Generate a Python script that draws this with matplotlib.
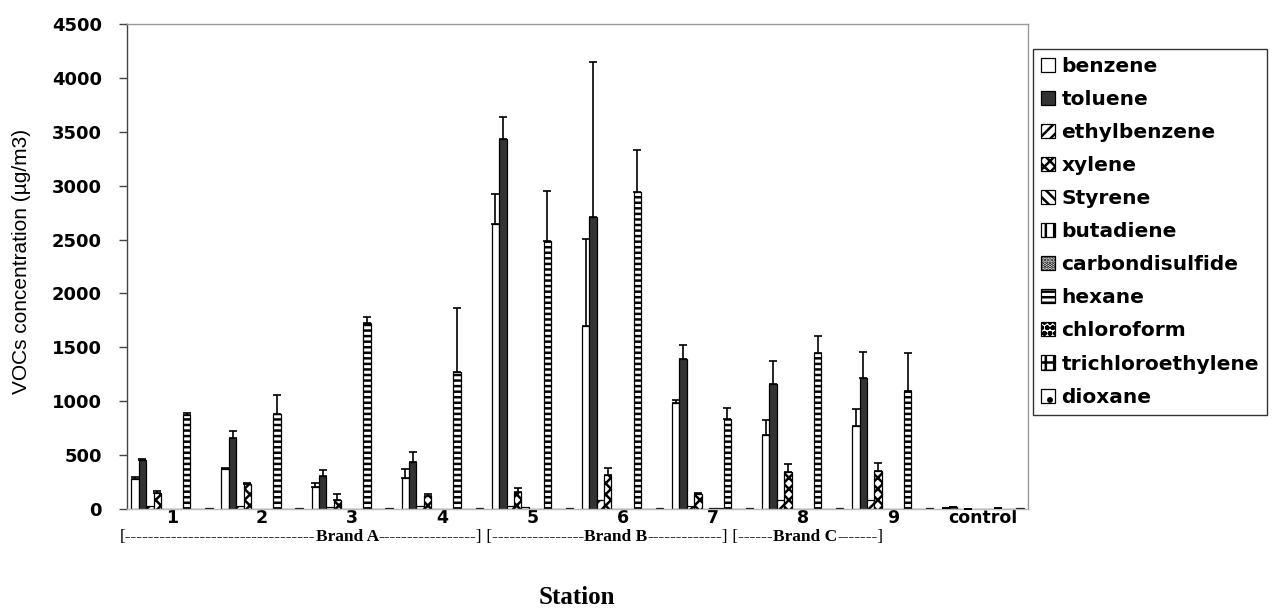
import matplotlib
matplotlib.use("Agg")
import matplotlib.pyplot as plt
import numpy as np

# station labels and the brand bracket line under them
stations = ['1', '2', '3', '4', '5', '6', '7', '8', '9', 'control']
brand_pieces = [("[" + "-" * 33, 'normal'), ("Brand A", 'bold'), ("-" * 17 + "]", 'normal'),
                (" [" + "-" * 16, 'normal'), ("Brand B", 'bold'), ("-" * 13 + "]", 'normal'),
                (" [" + "-" * 6, 'normal'), ("Brand C", 'bold'), ("-" * 7 + "]", 'normal')]

compounds = ['benzene', 'toluene', 'ethylbenzene', 'xylene', 'Styrene', 'butadiene',
             'carbondisulfide', 'hexane', 'chloroform', 'trichloroethylene', 'dioxane']

# values (ug/m3), one list per compound
benzene = [275, 368, 204, 290, 2645, 1698, 980, 686, 773, 5]
toluene = [458, 661, 306, 439, 3432, 2709, 1394, 1157, 1218, 20]
ethylbenzene = [25, 30, 20, 25, 30, 80, 25, 80, 80, 0]
xylene = [146, 232, 83, 120, 160, 312, 140, 346, 352, 0]
styrene = [0, 0, 0, 0, 20, 0, 0, 0, 0, 0]
butadiene = [0, 0, 0, 0, 0, 0, 10, 0, 0, 0]
carbondisulfide = [0, 0, 0, 0, 0, 0, 10, 0, 0, 0]
hexane = [875, 880, 1728, 1268, 2486, 2937, 832, 1444, 1094, 5]
chloroform = [0, 0, 0, 0, 0, 0, 0, 0, 0, 0]
trichloroethylene = [0, 0, 0, 0, 0, 0, 0, 0, 0, 0]
dioxane = [10, 10, 10, 10, 10, 10, 10, 10, 10, 10]

# upper error bars
benzene_err = [19, 15, 36, 81, 277, 810, 28, 142, 155, 0]
toluene_err = [5, 65, 56, 87, 204, 1441, 130, 216, 241, 0]
xylene_err = [24, 5, 56, 19, 32, 71, 10, 69, 72, 0]
hexane_err = [12, 177, 56, 594, 464, 390, 108, 164, 350, 0]

series = [benzene, toluene, ethylbenzene, xylene, styrene, butadiene,
          carbondisulfide, hexane, chloroform, trichloroethylene, dioxane]
errors = {0: benzene_err, 1: toluene_err, 3: xylene_err, 7: hexane_err}

faces = ['white', '#333333'] + ['white'] * 9
hatches = [None, None, '///', 'xxx', '\\\\\\', '||', '.....', '---', 'ooo', '++', '.']

plt.rcParams['hatch.linewidth'] = 1.8
plt.rcParams['hatch.color'] = 'black'

fig = plt.figure(figsize=(12.81, 6.15), dpi=100)
ax = fig.add_axes([0.0991, 0.1724, 0.7034, 0.7886])

x = np.arange(len(stations))
w = 0.082
for k, vals in enumerate(series):
    pos = x + (k - 5) * w
    ax.bar(pos, vals, w, facecolor=faces[k], edgecolor='black', hatch=hatches[k],
           linewidth=0.9, label=compounds[k], zorder=2)
    if k in errors:
        err = errors[k]
        ax.errorbar(pos, vals, yerr=[np.zeros(len(err)), err], fmt='none', ecolor='black',
                    elinewidth=1.2, capsize=3, capthick=1.2, zorder=3)

ax.set_xlim(-0.5, len(stations) - 0.5)
ax.set_ylim(0, 4500)
ax.set_yticks(np.arange(0, 4501, 500))
ax.set_xticks(x)
ax.set_xticklabels(stations, fontsize=12.5, fontweight='bold', family='DejaVu Sans')
for t in ax.get_yticklabels():
    t.set_fontsize(13)
    t.set_fontweight('bold')
ax.tick_params(axis='x', length=0, pad=0)
ax.tick_params(axis='y', length=6, width=1, pad=12, color='#444444')

ax.spines['left'].set_color('#444444')
ax.spines['bottom'].set_color('#bbbbbb')
ax.spines['top'].set_color('#999999')
ax.spines['right'].set_color('#999999')
for s in ax.spines.values():
    s.set_linewidth(1)

ax.set_ylabel('VOCs concentration (µg/m3)', family='Liberation Sans', fontsize=15)
ax.yaxis.set_label_coords(-0.1065, 0.51)

leg = fig.legend(loc='upper left', bbox_to_anchor=(0.8065, 0.921),
                 prop={'weight': 'bold', 'size': 14.5}, frameon=True, fancybox=False,
                 handlelength=0.7, handleheight=0.7, handletextpad=0.3,
                 labelspacing=0.7, borderpad=0.4, borderaxespad=0)
leg.get_frame().set_edgecolor('black')
leg.get_frame().set_linewidth(1)

# bracket line built from pieces so brand names can be bold
txt = fig.text(120 / 1281, 1 - 545 / 615, brand_pieces[0][0], family='Liberation Serif',
               fontsize=12.5, fontweight=brand_pieces[0][1], va='bottom', ha='left')
for s, wgt in brand_pieces[1:]:
    txt = ax.annotate(s, xy=(1, 0), xycoords=txt, va='bottom', ha='left',
                      family='Liberation Serif', fontsize=12.5, fontweight=wgt,
                      annotation_clip=False)

fig.text(577 / 1281, 1 - 598 / 615, 'Station', family='Liberation Serif', fontsize=18,
         fontweight='bold', ha='center', va='center')

fig.savefig('out.png', dpi=100)
